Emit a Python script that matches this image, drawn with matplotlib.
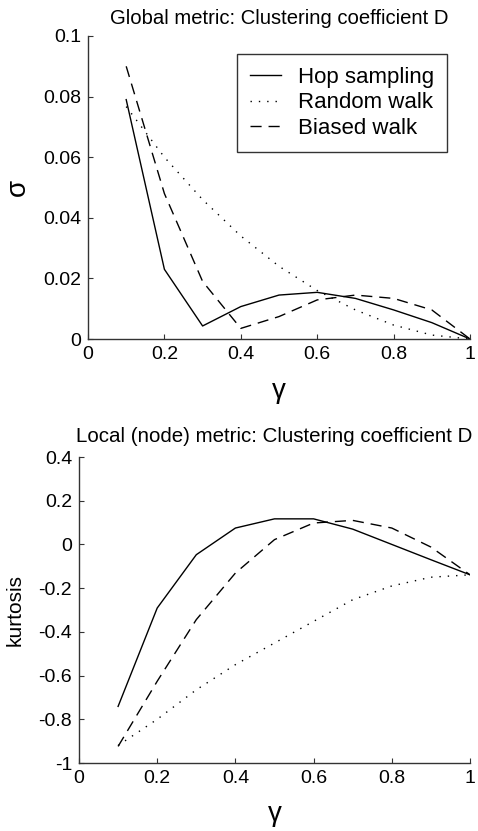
import matplotlib
matplotlib.use('Agg')
import matplotlib.pyplot as plt

plt.rcParams['font.family'] = ['Liberation Sans', 'DejaVu Sans']
plt.rcParams['axes.unicode_minus'] = False

gamma = [0.1, 0.2, 0.3, 0.4, 0.5, 0.6, 0.7, 0.8, 0.9, 1.0]

# global metric: sigma
sigma_hop = [0.079, 0.023, 0.0043, 0.0107, 0.0145, 0.0154, 0.0134, 0.0096, 0.0054, 0.0]
sigma_random = [0.0767, 0.060, 0.046, 0.034, 0.024, 0.016, 0.0096, 0.0046, 0.0013, 0.0]
sigma_biased = [0.090, 0.048, 0.019, 0.0035, 0.0074, 0.0129, 0.0145, 0.0134, 0.0096, 0.0]

# local metric: kurtosis
kurt_hop = [-0.741, -0.291, -0.047, 0.075, 0.117, 0.117, 0.070, 0.0, -0.07, -0.139]
kurt_random = [-0.92, -0.80, -0.665, -0.55, -0.451, -0.352, -0.253, -0.19, -0.15, -0.139]
kurt_biased = [-0.924, -0.626, -0.344, -0.131, 0.022, 0.098, 0.11, 0.075, -0.012, -0.139]

labels = ['Hop sampling', 'Random walk', 'Biased walk']
styles = ['-', (0, (1, 5)), (0, (8, 5))]

x_ticks = [0, 0.2, 0.4, 0.6, 0.8, 1]
x_ticklabels = ['0', '0.2', '0.4', '0.6', '0.8', '1']
top_yticks = [0, 0.02, 0.04, 0.06, 0.08, 0.1]
top_yticklabels = ['0', '0.02', '0.04', '0.06', '0.08', '0.1']
bot_yticks = [-1, -0.8, -0.6, -0.4, -0.2, 0, 0.2, 0.4]
bot_yticklabels = ['-1', '-0.8', '-0.6', '-0.4', '-0.2', '0', '0.2', '0.4']

W, H = 478, 831
fig = plt.figure(figsize=(W / 100, H / 100), dpi=100)
ax1 = fig.add_axes([88 / W, 1 - 339 / H, 382 / W, 303 / H])
ax2 = fig.add_axes([79 / W, 1 - 763 / H, 391 / W, 306 / H])


def style_axes(ax):
    for side in ['top', 'right']:
        ax.spines[side].set_visible(False)
    for side in ['left', 'bottom']:
        ax.spines[side].set_color('#333333')
        ax.spines[side].set_linewidth(1.0)
    ax.tick_params(direction='in', length=3.5, width=0.8, color='#333333',
                   labelsize=14, pad=5)
    ax.set_xlim(0, 1)
    ax.set_xticks(x_ticks)
    ax.set_xticklabels(x_ticklabels)


series1 = [sigma_hop, sigma_random, sigma_biased]
for vals, ls, lab in zip(series1, styles, labels):
    ax1.plot(gamma, vals, color='black', linestyle=ls, linewidth=1.0, label=lab)
style_axes(ax1)
ax1.set_ylim(0, 0.1)
ax1.set_yticks(top_yticks)
ax1.set_yticklabels(top_yticklabels)
ax1.set_title('Global metric: Clustering coefficient D', fontsize=14.6, pad=9)
ax1.set_ylabel('σ', fontsize=20, rotation=90)
ax1.yaxis.set_label_coords(-0.15, 0.5)
ax1.set_xlabel('γ', fontsize=20)
ax1.xaxis.set_label_coords(0.5, -0.13)
leg = ax1.legend(loc='upper right', bbox_to_anchor=(0.94, 0.941), fontsize=16,
                 frameon=True, fancybox=False, borderaxespad=0, labelspacing=0.19,
                 handlelength=1.4, handletextpad=0.75, borderpad=0.6)
leg.get_frame().set_edgecolor('black')
leg.get_frame().set_linewidth(1.0)

series2 = [kurt_hop, kurt_random, kurt_biased]
for vals, ls, lab in zip(series2, styles, labels):
    ax2.plot(gamma, vals, color='black', linestyle=ls, linewidth=1.0, label=lab)
style_axes(ax2)
ax2.set_ylim(-1, 0.4)
ax2.set_yticks(bot_yticks)
ax2.set_yticklabels(bot_yticklabels)
ax2.set_title('Local (node) metric: Clustering coefficient D', fontsize=14.8, pad=11)
ax2.set_ylabel('kurtosis', fontsize=15)
ax2.yaxis.set_label_coords(-0.138, 0.5)
ax2.set_xlabel('γ', fontsize=20)
ax2.xaxis.set_label_coords(0.5, -0.125)

fig.savefig('out.png', dpi=100)
